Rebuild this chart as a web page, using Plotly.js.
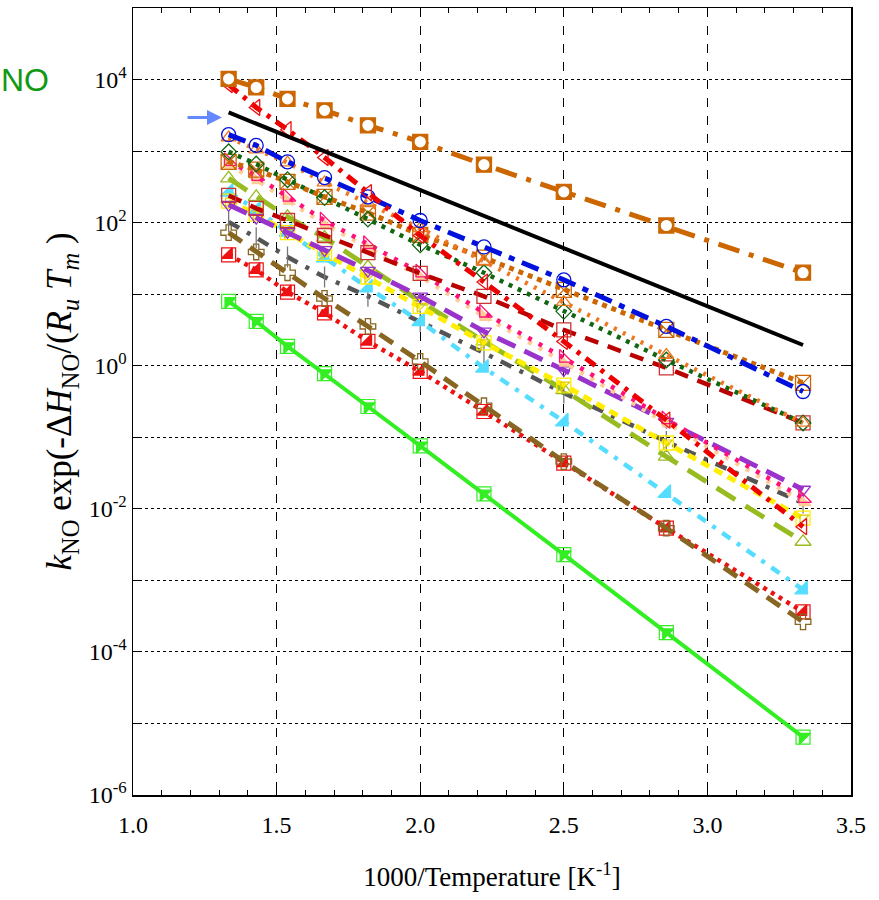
<!DOCTYPE html>
<html><head><meta charset="utf-8">
<script src="https://cdn.plot.ly/plotly-3.0.1.min.js"></script>
<style>html,body{margin:0;padding:0;background:#fff}</style>
</head><body>
<div id="chart" style="width:879px;height:900px"></div>
<script>
// 1000/T for T = 750 ... 300 K
const invT = [1.333, 1.429, 1.538, 1.667, 1.818, 2.0, 2.222, 2.5, 2.857, 3.333];
// log10 of the plotted quantity
const logOrangeSqCircle = [4.01, 3.89, 3.73, 3.57, 3.36, 3.13, 2.81, 2.43, 1.96, 1.30];
const logRedTriLeft     = [3.93, 3.61, 3.30, 2.91, 2.42, 1.82, 1.17, 0.34, -0.76, -2.25];
const logBlueCircle     = [3.23, 3.08, 2.85, 2.63, 2.36, 2.03, 1.66, 1.20, 0.55, -0.36];
const logOrangeTri      = [3.19, 3.02, 2.84, 2.56, 2.27, 1.92, 1.46, 0.89, 0.15, -0.80];
const logGreenDiamond   = [2.99, 2.82, 2.60, 2.35, 2.05, 1.69, 1.30, 0.76, 0.08, -0.80];
const logChocSquareX    = [2.85, 2.74, 2.57, 2.36, 2.14, 1.83, 1.51, 1.06, 0.50, -0.24];
const logDarkRedSquare  = [2.38, 2.20, 2.03, 1.82, 1.58, 1.29, 0.97, 0.50, -0.03, -0.80];
const logPinkTri        = [2.86, 2.65, 2.36, 2.03, 1.70, 1.30, 0.74, 0.11, -0.75, -1.85];
const logPeachTri       = [2.80, 2.60, 2.31, 1.98, 1.65, 1.25, 0.69, 0.05, -0.80, -1.90];
const logPurpleTriDown  = [2.25, 2.07, 1.87, 1.62, 1.33, 0.97, 0.48, -0.06, -0.78, -1.73];
const logYellowSquare   = [2.30, 2.12, 1.86, 1.57, 1.24, 0.83, 0.32, -0.27, -1.08, -2.13];
const logYGreenTri      = [2.62, 2.36, 2.08, 1.79, 1.38, 0.90, 0.34, -0.34, -1.27, -2.46];
const logCyanTri        = [2.43, 2.18, 1.87, 1.51, 1.09, 0.62, -0.03, -0.78, -1.78, -3.13];
const logGrayTick       = [2.01, 1.79, 1.52, 1.24, 0.97, 0.62, 0.18, -0.38, -1.06, -1.92];
const logOliveCross     = [1.86, 1.59, 1.30, 0.94, 0.55, 0.06, -0.56, -1.34, -2.27, -3.58];
const logRedHalfSquare  = [1.55, 1.34, 1.03, 0.74, 0.34, -0.08, -0.64, -1.36, -2.27, -3.44];
const logGreenHalfSq    = [0.90, 0.62, 0.27, -0.11, -0.57, -1.12, -1.79, -2.64, -3.73, -5.19];
// reference line (no markers)
const refX   = [1.333, 3.333];
const logRef = [3.54, 0.29];

const yMajorExp = [-6, -4, -2, 0, 2, 4];
const yMajorText = ['10<sup>-6</sup>', '10<sup>-4</sup>', '10<sup>-2</sup>', '10<sup>0</sup>', '10<sup>2</sup>', '10<sup>4</sup>'];
const yMinorExp = [-5, -3, -1, 1, 3, 5];
const xTickVals = [1.0, 1.5, 2.0, 2.5, 3.0, 3.5];
const xTickText = ['1.0', '1.5', '2.0', '2.5', '3.0', '3.5'];

const p10 = a => a.map(v => Math.pow(10, v));

function series(logs, color, dash, width, symbol, msize, mcolor, mline, xs) {
  const t = {
    x: xs || invT, y: p10(logs), type: 'scatter', mode: symbol ? 'lines+markers' : 'lines',
    line: {color: color, dash: dash, width: width},
    showlegend: false, hoverinfo: 'skip'
  };
  if (symbol) t.marker = {symbol: symbol, size: msize, color: mcolor || color, line: {color: mline || color, width: 1.3}};
  return t;
}
function markersOnly(logs, symbol, msize, mcolor, mline) {
  return {x: invT, y: p10(logs), type: 'scatter', mode: 'markers',
    marker: {symbol: symbol, size: msize, color: mcolor, line: {color: mline || mcolor, width: 1.2}},
    showlegend: false, hoverinfo: 'skip'};
}

const traces = [
  series(logGreenHalfSq, '#33ee22', 'solid', 4, 'triangle-nw', 12, '#33ee22'),
  markersOnly(logGreenHalfSq, 'square-open', 14, '#33ee22'),
  series(logRedHalfSquare, '#ee1111', '4px,5px', 4.5, 'triangle-se', 12, '#ee1111'),
  markersOnly(logRedHalfSquare, 'square-open', 14, '#ee1111'),
  series(logOliveCross, '#886622', '16px,10px', 5, 'cross-open', 13, '#886622'),
  series(logGrayTick, '#555555', '12px,9px,4px,9px', 4.5, 'line-ns-open', 15, '#777777'),
  series(logCyanTri, '#55ddff', '10px,8px,4px,8px', 4.5, 'triangle-se', 14, '#55ddff'),
  series(logYGreenTri, '#99bb22', '22px,12px', 5, 'triangle-up-open', 14, '#99bb22'),
  series(logYellowSquare, '#ffee00', '9px,6px', 5, 'square-open', 14, '#ffee00'),
  markersOnly(logYellowSquare, 'triangle-nw-open', 10, '#ddcc00'),
  series(logPurpleTriDown, '#9933cc', '20px,10px', 5, 'triangle-down-open', 13, '#9933cc'),
  series(logPeachTri, '#ffcc99', '4px,8px', 4.5, 'triangle-sw', 13, '#ffcc99'),
  series(logPinkTri, '#ff1177', '4px,8px', 4.5, 'triangle-sw-open', 14, '#ff1177'),
  series(logDarkRedSquare, '#bb0000', '14px,10px', 4.5, 'square-open', 14, '#cc3333'),
  series(logChocSquareX, '#cc6600', '5px,5px', 5, 'square-x-open', 15, '#cc6600'),
  series(logGreenDiamond, '#116611', '4px,6px', 4.5, 'diamond-open', 12, '#116611'),
  series(logOrangeTri, '#ee7722', '3px,7px', 4.5, 'triangle-up-open', 13, '#ee7722'),
  series(logBlueCircle, '#0011dd', '18px,8px,6px,8px', 5, 'circle-open', 14, '#0011dd'),
  series(logRedTriLeft, '#ee0000', '12px,7px,4px,7px', 5, 'triangle-left-open', 14, '#ee1111'),
  series(logRef, '#000000', 'solid', 4, null, 0, null, null, refX),
  series(logOrangeSqCircle, '#cc6600', '22px,10px,5px,10px', 5, 'square', 15, '#cc6600'),
  markersOnly(logOrangeSqCircle, 'circle', 10, '#ffffff', '#ffffff')
];

const serif = 'Liberation Serif, Times New Roman, serif';
const layout = {
  width: 879, height: 900,
  margin: {l: 133, r: 28, t: 8, b: 105},
  paper_bgcolor: '#ffffff', plot_bgcolor: '#ffffff',
  font: {family: serif, size: 24, color: '#000'},
  showlegend: false,
  xaxis: {
    range: [1.0, 3.5], tickvals: xTickVals, ticktext: xTickText,
    ticks: 'inside', ticklen: 9, tickcolor: '#000', tickwidth: 1,
    showline: true, linecolor: '#000', linewidth: 1.5, mirror: 'ticks',
    showgrid: true, gridcolor: '#000', griddash: 'dash', gridwidth: 1,
    zeroline: false, ticklabelstandoff: 8,
    minor: {dtick: 0.1, ticks: 'inside', ticklen: 5, tickcolor: '#000', showgrid: false},
    tickfont: {family: serif, size: 24, color: '#000'},
    title: {text: '1000/Temperature [K<sup>-1</sup>]', font: {family: serif, size: 27, color: '#000'}, standoff: 30}
  },
  yaxis: {
    type: 'log', range: [-6, 5],
    tickmode: 'array', tickvals: p10(yMajorExp), ticktext: yMajorText,
    ticks: 'inside', ticklen: 9, tickcolor: '#000', tickwidth: 1,
    showline: true, linecolor: '#000', linewidth: 1.5, mirror: 'ticks',
    showgrid: true, gridcolor: '#000', griddash: 'dot', gridwidth: 1,
    zeroline: false,
    minor: {tickmode: 'array', tickvals: p10(yMinorExp), ticks: 'inside', ticklen: 9, tickcolor: '#000',
            showgrid: true, gridcolor: '#000', griddash: 'dot', gridwidth: 1},
    tickfont: {family: serif, size: 24, color: '#000'},
    title: {text: '<i>k</i><sub>NO</sub> exp(-Δ<i>H</i><sub>NO</sub>/(<i>R</i><sub><i>u</i></sub> <i>T</i><sub><i>m</i></sub> )', font: {family: serif, size: 35, color: '#000'}, standoff: 6}
  },
  annotations: [
    {xref: 'paper', yref: 'paper', x: -0.15, y: 0.9085, xanchor: 'center', yanchor: 'middle',
     text: 'NO', showarrow: false, font: {family: 'Liberation Sans, Arial, sans-serif', size: 32, color: '#119911'}},
    {x: 1.31, y: 3.47, xref: 'x', yref: 'y', text: '', showarrow: true,
     ax: -36, ay: 0, arrowhead: 2, arrowsize: 1, arrowwidth: 3, arrowcolor: '#6688ff'}
  ]
};

Plotly.newPlot('chart', traces, layout, {staticPlot: true, displayModeBar: false});
</script>
</body></html>
